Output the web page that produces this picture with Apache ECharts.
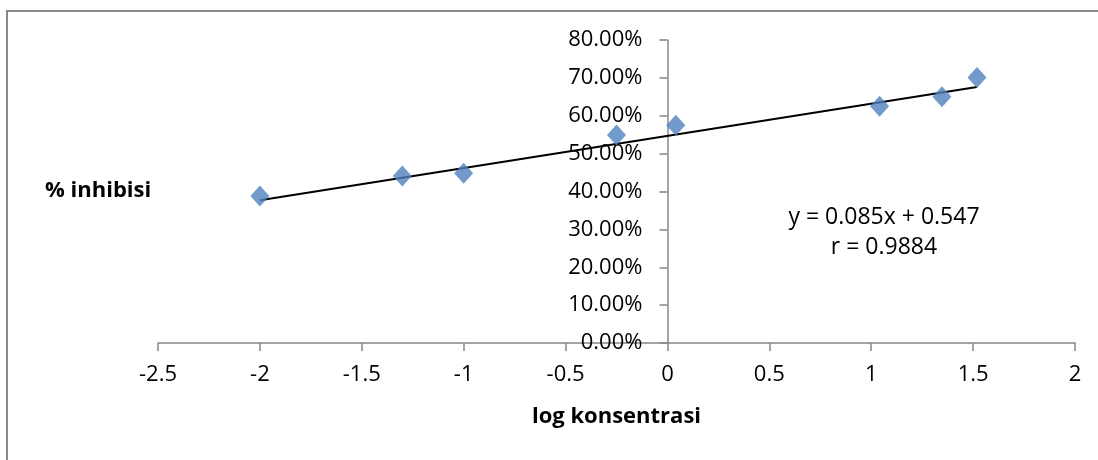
<!DOCTYPE html>
<html>
<head>
<meta charset="utf-8">
<style>
  html, body { margin: 0; padding: 0; background: #ffffff; }
  #chart { width: 1098px; height: 460px; }
</style>
<script src="https://cdn.jsdelivr.net/npm/echarts@6/dist/echarts.min.js"></script>
</head>
<body>
<div id="chart"></div>
<script>
// Measured points: log concentration vs. fraction inhibited
const logKonsentrasi = [-2, -1.301, -1, -0.25, 0.041, 1.041, 1.347, 1.519];
const inhibisi = [0.388, 0.441, 0.448, 0.549, 0.575, 0.625, 0.650, 0.701];

// Linear fit reported on the chart
const slope = 0.085;
const intercept = 0.547;
const rValue = 0.9884;

// Axis tick settings
const xTicks = { min: -2.5, max: 2, step: 0.5 };
const yTicks = { min: 0, max: 0.8, step: 0.1 };

const FONT = '"Open Sans", "Noto Sans", sans-serif';
const AXIS_GREY = '#878787';

const GRID = { left: 158, right: 23, top: 40, bottom: 117 };
const CHART_W = 1098;

// The value axis crosses the category axis at x = 0; shift the whole
// y axis (line, ticks, labels) there from the grid's left edge.
const plotW = CHART_W - GRID.left - GRID.right;
const zeroOffset = plotW * (0 - xTicks.min) / (xTicks.max - xTicks.min);

const scatterData = logKonsentrasi.map((x, i) => [x, inhibisi[i]]);
const xFirst = Math.min(...logKonsentrasi);
const xLast = Math.max(...logKonsentrasi);
const fitLine = [xFirst, xLast].map(x => [x, slope * x + intercept]);

const chart = echarts.init(document.getElementById('chart'), null, { renderer: 'canvas' });

chart.setOption({
  backgroundColor: '#ffffff',
  animation: false,
  grid: Object.assign({ containLabel: false }, GRID),
  xAxis: {
    type: 'value',
    min: xTicks.min,
    max: xTicks.max,
    interval: xTicks.step,
    name: 'log konsentrasi',
    nameLocation: 'middle',
    nameGap: 63,
    nameTextStyle: { fontFamily: FONT, fontSize: 22, fontWeight: 'bold', color: '#000' },
    axisLine: { onZero: false, lineStyle: { color: AXIS_GREY, width: 1.5 } },
    axisTick: { show: true, length: 8, lineStyle: { color: AXIS_GREY, width: 1.5 } },
    axisLabel: {
      fontFamily: FONT, fontSize: 22, color: '#000', margin: 21,
      formatter: v => String(Math.round(v * 10) / 10)
    },
    splitLine: { show: false }
  },
  yAxis: {
    type: 'value',
    position: 'left',
    offset: -zeroOffset,
    min: yTicks.min,
    max: yTicks.max,
    interval: yTicks.step,
    axisLine: { onZero: false, lineStyle: { color: AXIS_GREY, width: 1.5 } },
    axisTick: { show: true, length: 8, lineStyle: { color: AXIS_GREY, width: 1.5 } },
    axisLabel: {
      fontFamily: FONT, fontSize: 22, color: '#000', margin: 25,
      formatter: v => (v * 100).toFixed(2) + '%'
    },
    splitLine: { show: false }
  },
  series: [
    {
      type: 'line',
      data: fitLine,
      showSymbol: false,
      symbol: 'none',
      lineStyle: { color: '#000000', width: 2 },
      z: 2,
      silent: true
    },
    {
      type: 'scatter',
      data: scatterData,
      symbol: 'diamond',
      symbolSize: [19, 21],
      itemStyle: { color: '#4F81BD' },
      z: 3
    }
  ],
  graphic: [
    {
      type: 'rect',
      shape: { x: 7, y: 11, width: 1200, height: 600 },
      style: { fill: null, stroke: '#8a8a8a', lineWidth: 2 },
      silent: true,
      z: 0
    },
    {
      type: 'text',
      left: 45,
      top: 180,
      style: { text: '% inhibisi', fontFamily: FONT, fontSize: 22, fontWeight: 'bold', fill: '#000' }
    },
    {
      type: 'text',
      x: 884,
      y: 217,
      style: {
        text: 'y = ' + slope + 'x + ' + intercept,
        fontFamily: FONT, fontSize: 23, fill: '#000', align: 'center', verticalAlign: 'middle'
      }
    },
    {
      type: 'text',
      x: 884,
      y: 247,
      style: {
        text: 'r = ' + rValue,
        fontFamily: FONT, fontSize: 23, fill: '#000', align: 'center', verticalAlign: 'middle'
      }
    }
  ]
});
</script>
</body>
</html>
